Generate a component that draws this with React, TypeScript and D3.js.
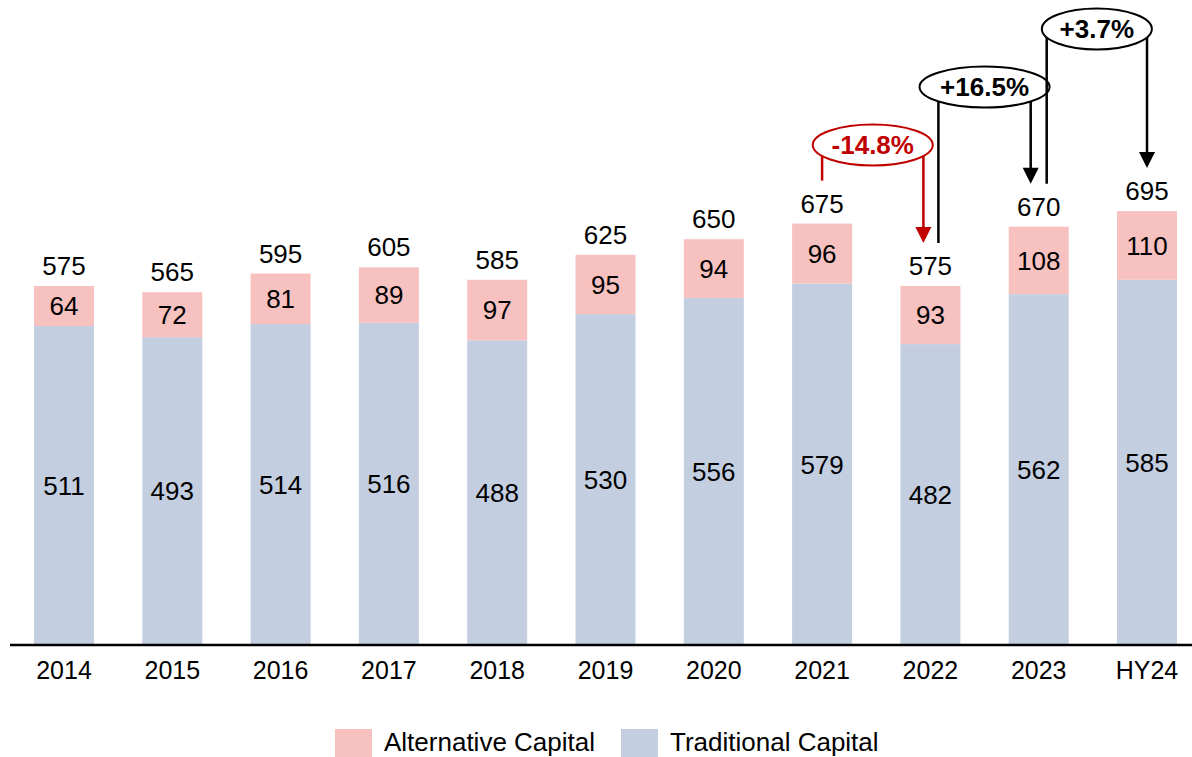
import React from "react";
import * as d3 from "d3";

const categories = ["2014", "2015", "2016", "2017", "2018", "2019", "2020", "2021", "2022", "2023", "HY24"];
const traditional = [511, 493, 514, 516, 488, 530, 556, 579, 482, 562, 585];
const alternative = [64, 72, 81, 89, 97, 95, 94, 96, 93, 108, 110];
const totals = [575, 565, 595, 605, 585, 625, 650, 675, 575, 670, 695];

// growth call-outs: from bar -> to bar
const changes = [
  { from: "2021", to: "2022", label: "-14.8%", color: "#C00000", cy: 145, rx: 60, dxFrom: 0, dxTo: -7 },
  { from: "2022", to: "2023", label: "+16.5%", color: "#000", cy: 87, rx: 65, dxFrom: 8, dxTo: -8 },
  { from: "2023", to: "HY24", label: "+3.7%", color: "#000", cy: 29, rx: 55, dxFrom: 8, dxTo: 0 },
];

const legendItems = [
  { name: "Alternative Capital", color: "#F7C1C0", x: 335 },
  { name: "Traditional Capital", color: "#C3CEE0", x: 621 },
];

const W = 1192;
const H = 757;
const PINK = "#F7C1C0";
const BLUE = "#C3CEE0";
const FONT = "'Liberation Sans', Arial, sans-serif";

export default function App() {
  const x = d3.scaleBand<string>().domain(categories).range([9.85, 1201.15]).paddingInner(0.446).paddingOuter(0.223);
  const y = d3.scaleLinear().domain([0, 700]).range([645, 645 - 700 * 0.6243]);
  const bw = x.bandwidth();
  const cx = (c: string) => (x(c) as number) + bw / 2;
  const topOf = (c: string) => y(totals[categories.indexOf(c)]);

  const stack = d3.stack<number>().keys(["trad", "alt"]).value((i, k) => (k === "trad" ? traditional[i] : alternative[i]));
  const series = stack(categories.map((_, i) => i));

  return (
    <svg width={W} height={H} style={{ position: "absolute", left: 0, top: 0, background: "#fff" }} fontFamily={FONT}>
      {series.map((s, si) => (
        <g key={si} fill={si === 0 ? BLUE : PINK}>
          {s.map((d, i) => (
            <rect key={i} x={x(categories[i])} y={y(d[1])} width={bw} height={y(d[0]) - y(d[1])} />
          ))}
        </g>
      ))}
      {series.map((s, si) =>
        s.map((d, i) => (
          <text
            key={`l${si}-${i}`}
            x={cx(categories[i])}
            y={(y(d[0]) + y(d[1])) / 2}
            dy="0.36em"
            textAnchor="middle"
            fontSize={26}
            fill="#000"
          >
            {si === 0 ? traditional[i] : alternative[i]}
          </text>
        ))
      )}
      {categories.map((c, i) => (
        <text key={`t${c}`} x={cx(c)} y={y(totals[i]) - 11} textAnchor="middle" fontSize={26} fill="#000">
          {totals[i]}
        </text>
      ))}
      <line x1={10} x2={1192} y1={y(0)} y2={y(0)} stroke="#000" strokeWidth={2.5} />
      {categories.map((c) => (
        <text key={`x${c}`} x={cx(c)} y={679} textAnchor="middle" fontSize={25} fill="#000">
          {c}
        </text>
      ))}

      {changes.map((a) => {
        const x1 = cx(a.from) + a.dxFrom;
        const x2 = cx(a.to) + a.dxTo;
        const mx = (x1 + x2) / 2;
        const b1 = topOf(a.from) - 43;
        const b2 = topOf(a.to) - 43;
        return (
          <g key={a.label}>
            <line x1={x1} x2={x1} y1={a.cy} y2={b1} stroke={a.color} strokeWidth={2.5} />
            <line x1={x2} x2={x2} y1={a.cy} y2={b2 - 14} stroke={a.color} strokeWidth={2.5} />
            <path d={`M${x2 - 8},${b2 - 16} L${x2 + 8},${b2 - 16} L${x2},${b2} Z`} fill={a.color} />
            <ellipse cx={mx} cy={a.cy} rx={a.rx} ry={20.5} fill="#fff" stroke={a.color} strokeWidth={2} />
            <text x={mx} y={a.cy} dy="0.36em" textAnchor="middle" fontSize={26} fontWeight="bold" fill={a.color}>
              {a.label}
            </text>
          </g>
        );
      })}

      {legendItems.map((l) => (
        <g key={l.name}>
          <rect x={l.x} y={729} width={37} height={37} fill={l.color} />
          <text x={l.x + 49} y={751} fontSize={26} fill="#000">{l.name}</text>
        </g>
      ))}
    </svg>
  );
}
